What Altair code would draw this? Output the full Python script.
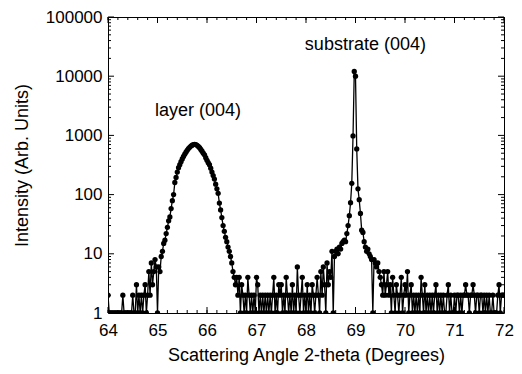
import altair as alt
import pandas as pd
import numpy as np

# Scan: 2-theta from 64 to 72 degrees, step 0.025 deg; counts
start_angle = 64.0
step = 0.025
counts_64 = [2,1,1,1,1,1,1,1,1,1, 1,1,2,1,1,1,1,1,1,1, 2,1,1,3,1,2,1,2,1,2, 3,1,2,5,2,7,3,5,8,6]
counts_65 = [1,6,5,9,11,15,17,22,28,36, 42,58,79,100,160,195,240,285,320,360,
             400,440,480,520,560,600,630,660,685,700, 705,700,680,650,620,580,540,500,470,420]
counts_66 = [380,345,320,280,240,210,183,150,125,105, 72,55,41,30,24,19,16,13,11,9,
             7,5,4,3,4,2,4,1,3,2, 1,2,1,4,2,1,2,1,2,1]
counts_67 = [4,3,1,2,1,2,1,2,1,2, 1,2,1,2,4,1,2,1,3,2, 3,1,2,1,4,2,1,2,1,3, 1,2,1,6,2,1,2,4,1,2]
counts_68 = [1,3,1,2,1,3,2,1,2,4, 2,1,5,2,6,3,1,7,3,5, 4,11,1,9,11,12,10,13,12,15,
             16,17,16,22,30,44,73,155,980,12000]
counts_69 = [10000,590,125,82,48,25,23,16,13,11, 12,10,9,8,1,8,7,6,7,5,
             4,3,2,5,2,3,5,2,3,1, 4,2,1,3,2,1,2,4,1,2]
counts_70 = [3,2,5,1,2,3,1,2,1,2, 1,2,1,4,2,1,3,1,2,1, 2,1,2,1,2,3,1,2,1,2, 1,2,1,1,2,3,1,2,1,1]
counts_71 = [2,1,2,2,1,2,1,2,2,3, 2,2,1,2,2,3,2,1,2,2, 1,2,2,1,2,1,2,1,2,1, 1,2,1,1,1,2,3,1,2,2]
counts_72 = [2]

counts = counts_64 + counts_65 + counts_66 + counts_67 + counts_68 + counts_69 + counts_70 + counts_71 + counts_72
angles = [round(start_angle + step * i, 3) for i in range(len(counts))]
df = pd.DataFrame({"angle": angles, "counts": counts})

# Tick values
x_major = [64, 65, 66, 67, 68, 69, 70, 71, 72]
x_minor = [round(64 + 0.2 * k, 1) for k in range(41)]
y_major = [1, 10, 100, 1000, 10000, 100000]
y_minor = [m * 10 ** e for e in range(5) for m in range(2, 10)]

# Annotations
ann_text = ["layer (004)", "substrate (004)"]
ann_x = [65.82, 69.2]
ann_y = [2550, 34000]

W, H = 396, 296
FONT = "Liberation Sans"

xs = alt.Scale(domain=[64, 72], nice=False, zero=False)
ys = alt.Scale(type="log", domain=[1, 100000], nice=False)

x_axis = alt.Axis(values=x_major, ticks=False, domain=False, grid=False, labelFontSize=17,
                  labelPadding=9, labelFlush=False, titleFontSize=18, titlePadding=8, format="d",
                  title="Scattering Angle 2-theta (Degrees)")
y_axis = alt.Axis(values=y_major, ticks=False, domain=False, grid=False, labelFontSize=17,
                  labelPadding=6, labelFlush=False, titleFontSize=18, titlePadding=14, format="d",
                  title="Intensity (Arb. Units)")


def X(field):
    return alt.X(field, scale=xs, axis=x_axis)


def Y(field):
    return alt.Y(field, scale=ys, axis=y_axis)


line = alt.Chart(df).mark_line(color="black", strokeWidth=1.3, clip=True).encode(
    x=X("angle:Q"), y=Y("counts:Q"),
)
pts = alt.Chart(df).mark_circle(color="black", size=28, opacity=1, clip=True).encode(
    x=X("angle:Q"), y=Y("counts:Q"),
)


def xticks(vals, length):
    d = pd.DataFrame({"v": vals})
    bottom = alt.Chart(d).mark_rule(color="black", strokeWidth=1).encode(
        x=X("v:Q"), y=alt.value(H), y2=alt.value(H - length))
    top = alt.Chart(d).mark_rule(color="black", strokeWidth=1).encode(
        x=X("v:Q"), y=alt.value(0), y2=alt.value(length))
    return [bottom, top]


def yticks(vals, length):
    d = pd.DataFrame({"v": vals})
    left = alt.Chart(d).mark_rule(color="black", strokeWidth=1).encode(
        y=Y("v:Q"), x=alt.value(0), x2=alt.value(length))
    right = alt.Chart(d).mark_rule(color="black", strokeWidth=1).encode(
        y=Y("v:Q"), x=alt.value(W), x2=alt.value(W - length))
    return [left, right]


ann_df = pd.DataFrame({"x": ann_x, "y": ann_y, "t": ann_text})
labels = alt.Chart(ann_df).mark_text(font=FONT, fontSize=18, color="black").encode(
    x=X("x:Q"), y=Y("y:Q"), text="t:N",
)

layers = [line, pts] + xticks(x_major, 6) + xticks(x_minor, 3) + yticks(y_major, 6) + yticks(y_minor, 3) + [labels]

chart = alt.layer(*layers).properties(
    width=W, height=H,
    autosize=alt.AutoSizeParams(type="none"),
    padding={"left": 100, "top": 9, "right": 10, "bottom": 58},
).configure(font=FONT).configure_view(
    stroke="black", strokeWidth=1
).configure_axis(
    labelColor="black", titleColor="black", titleFontWeight="normal", labelFont=FONT, titleFont=FONT
)

chart.save("out.html", embed_options={"renderer": "svg", "actions": False})
